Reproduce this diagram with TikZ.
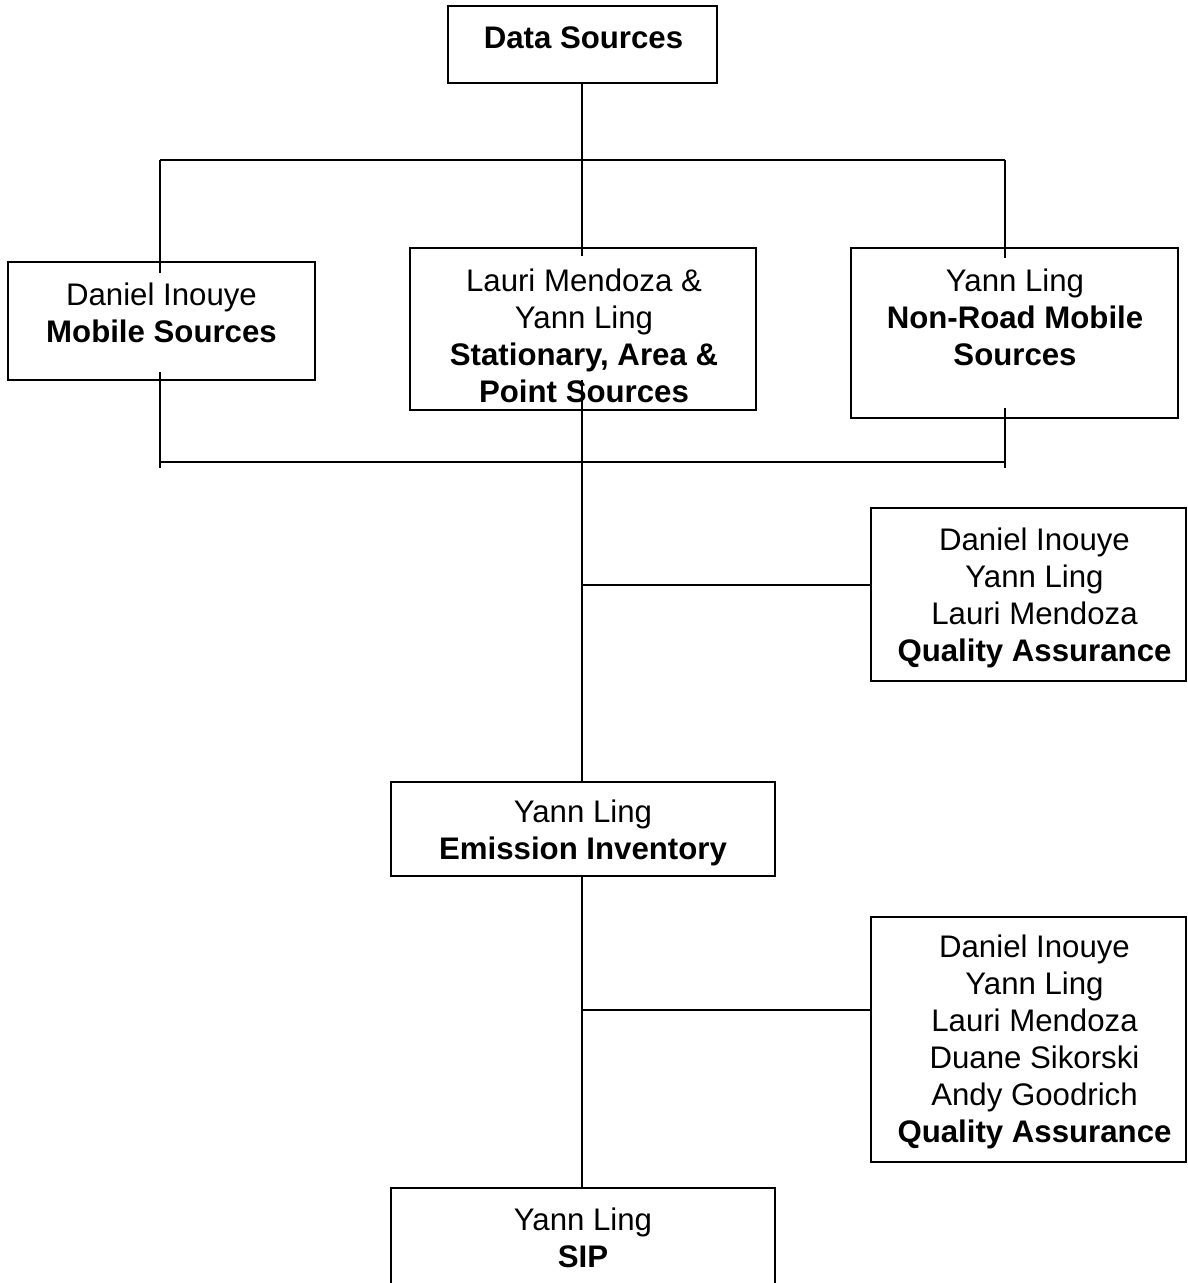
\documentclass[tikz,border=0pt]{standalone}
\usepackage{fontspec}
\setmainfont{Liberation Sans}
\usetikzlibrary{calc}
\begin{document}
\begin{tikzpicture}[x=1pt,y=-1pt,
  box/.style={draw, line width=1.3pt, inner sep=0pt},
  txt/.style={anchor=north, inner sep=0pt, align=center, font=\fontsize{31.2}{37}\selectfont},
  link/.style={line width=1.3pt}]
\useasboundingbox (0,0) rectangle (1188,1283);
\clip (0,0) rectangle (1188,1283);
% boxes
\node[box, minimum width=269pt, minimum height=77pt] (ds) at (582.5,44.5) {};
\node[box, minimum width=307pt, minimum height=118pt] (mob) at (161.5,321) {};
\node[box, minimum width=346pt, minimum height=162pt] (sta) at (583,329) {};
\node[box, minimum width=327pt, minimum height=170pt] (nr) at (1014.5,333) {};
\node[box, minimum width=315pt, minimum height=173pt] (qa1) at (1028.5,594.5) {};
\node[box, minimum width=384pt, minimum height=94pt] (ei) at (583,829) {};
\node[box, minimum width=315pt, minimum height=245pt] (qa2) at (1028.5,1039.5) {};
\node[box, minimum width=384pt, minimum height=130pt] (sip) at (583,1253) {};
% texts
\node[txt] (tds) at (583.5,22.1) {\strut\textbf{Data Sources}};
\node[txt] (tmob) at (161.5,279.1) {\strut Daniel Inouye\\\strut\textbf{Mobile Sources}};
\node[txt] (tsta) at (584,265.1) {\strut Lauri Mendoza \&\\\strut Yann Ling\\\strut\textbf{Stationary, Area \&}\\\strut\textbf{Point Sources}};
\node[txt] (tnr) at (1015,265.1) {\strut Yann Ling\\\strut\textbf{Non-Road Mobile}\\\strut\textbf{Sources}};
\node[txt] (tqa1) at (1034.5,524.1) {\strut Daniel Inouye\\\strut Yann Ling\\\strut Lauri Mendoza\\\strut\textbf{Quality Assurance}};
\node[txt] (tei) at (583,796.1) {\strut Yann Ling\\\strut\textbf{Emission Inventory}};
\node[txt] (tqa2) at (1034.5,931.1) {\strut Daniel Inouye\\\strut Yann Ling\\\strut Lauri Mendoza\\\strut Duane Sikorski\\\strut Andy Goodrich\\\strut\textbf{Quality Assurance}};
\node[txt] (tsip) at (583,1204.1) {\strut Yann Ling\\\strut\textbf{SIP}};
% junction coordinates
\coordinate (jt) at (582,160);
\coordinate (jtl) at (160,160);
\coordinate (jtr) at (1005,160);
\coordinate (mobin) at (160,273);
\coordinate (stain) at (582,256);
\coordinate (nrin) at (1005,258);
\coordinate (mobout) at (160,372);
\coordinate (nrout) at (1005,408);
\coordinate (staout) at (582,380);
\coordinate (jbl) at (160,462);
\coordinate (jbr) at (1005,462);
\coordinate (mobend) at (160,468);
\coordinate (nrend) at (1005,468);
\coordinate (jq1) at (582,585);
\coordinate (jq2) at (582,1010);
% connectors
\draw[link] (ds.south -| jt) -- (jt);
\draw[link] (jtl) -- (jtr);
\draw[link] (jtl) -- (mobin);
\draw[link] (jt) -- (stain);
\draw[link] (jtr) -- (nrin);
\draw[link] (mobout) -- (mobend);
\draw[link] (nrout) -- (nrend);
\draw[link] (jbl) -- (jbr);
\draw[link] (staout) -- (ei.north -| staout);
\draw[link] (jq1) -- (qa1.west |- jq1);
\draw[link] (ei.south -| jq2) -- (sip.north -| jq2);
\draw[link] (jq2) -- (qa2.west |- jq2);
\end{tikzpicture}
\end{document}
